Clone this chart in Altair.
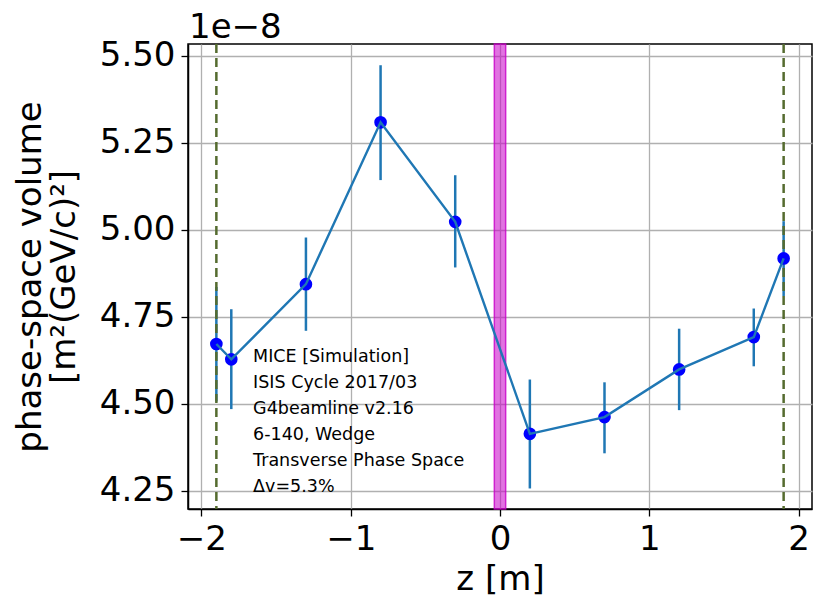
import altair as alt
import pandas as pd

# data (volume in units of 1e-8 m^2 (GeV/c)^2)
z = [-1.9, -1.8, -1.3, -0.8, -0.3, 0.2, 0.7, 1.2, 1.7, 1.9]
vol = [4.672, 4.628, 4.844, 5.309, 5.023, 4.414, 4.462, 4.599, 4.692, 4.918]
err_lo = [4.507, 4.485, 4.710, 5.143, 4.892, 4.257, 4.358, 4.482, 4.608, 4.810]
err_hi = [4.836, 4.772, 4.978, 5.473, 5.157, 4.570, 4.562, 4.716, 4.774, 5.025]
dashed_z = [-1.9, 1.9]
band_edges = [-0.038, 0.038]
x_ticks = [-2, -1, 0, 1, 2]
y_ticks = [4.25, 4.50, 4.75, 5.00, 5.25, 5.50]
x_domain = [-2.09, 2.09]
y_domain = [4.198, 5.534]
notes = ["MICE [Simulation]", "ISIS Cycle 2017/03", "G4beamline v2.16",
         "6-140, Wedge", "Transverse Phase Space", "Δv=5.3%"]
notes_pos = [-1.654, 4.619]
offset_label = ["1e−8"]

FONT = "DejaVu Sans"
W, H = 624, 465

df = pd.DataFrame({"z": z, "vol": vol, "lo": err_lo, "hi": err_hi})
vdf = pd.DataFrame({"z": dashed_z})
bdf = pd.DataFrame({"x0": [band_edges[0]], "x1": [band_edges[1]]})
one = pd.DataFrame({"k": [0]})

xs = alt.Scale(domain=x_domain, nice=False, zero=False)
ys = alt.Scale(domain=y_domain, nice=False, zero=False)

xaxis = alt.Axis(values=x_ticks, format="d", title="z [m]",
                 titleX=W / 2, titleY=80, titleBaseline="alphabetic",
                 titleAlign="center")
yaxis = alt.Axis(values=y_ticks, format=".2f",
                 title=["phase-space volume", "[m²(GeV/c)²]"],
                 titleX=-158, titleY=H / 2, titleAngle=-90,
                 titleAlign="center", titleBaseline="middle",
                 titleLineHeight=34)


def X(f):
    return alt.X(f, scale=xs, axis=xaxis)


def Y(f):
    return alt.Y(f, scale=ys, axis=yaxis)


band = alt.Chart(bdf).mark_rect(color="#c800c8", fillOpacity=0.55,
                                stroke="#c800c8", strokeOpacity=0.8,
                                strokeWidth=1.5).encode(
    x=X("x0:Q"), x2="x1:Q",
    y=alt.value(0), y2=alt.value(H))

errs = alt.Chart(df).mark_rule(color="#1f77b4", strokeWidth=2.5).encode(
    x=X("z:Q"), y=Y("lo:Q"), y2="hi:Q")

vlines = alt.Chart(vdf).mark_rule(color="#556b2f", strokeWidth=2.5,
                                  strokeDash=[9, 5]).encode(x=X("z:Q"))

pts = alt.Chart(df).mark_point(filled=True, color="#0000ff", size=160,
                               opacity=1).encode(x=X("z:Q"), y=Y("vol:Q"))

line = alt.Chart(df).mark_line(color="#1f77b4", strokeWidth=2.4).encode(
    x=X("z:Q"), y=Y("vol:Q"))

txt = alt.Chart(one).mark_text(align="left", baseline="alphabetic",
                               fontSize=17.5, font=FONT, lineHeight=26,
                               color="black").encode(
    x=alt.datum(notes_pos[0]), y=alt.datum(notes_pos[1]),
    text=alt.value(notes))

off = alt.Chart(pd.DataFrame({"t": offset_label})).mark_text(
    align="left", baseline="alphabetic", fontSize=34, font=FONT,
    color="black").encode(x=alt.value(1), y=alt.value(-6), text="t:N")

chart = alt.layer(band, errs, vlines, pts, line, txt, off).properties(
    width=W, height=H, autosize="none",
    padding={"left": 180, "top": 36, "right": 10, "bottom": 90},
).configure_view(stroke="black", strokeWidth=1.5).configure_axis(
    labelFont=FONT, titleFont=FONT, labelFontSize=34, titleFontSize=34,
    labelColor="black", titleColor="black", titleFontWeight="normal",
    grid=True, gridColor="#b0b0b0", gridWidth=1.3, gridOpacity=1,
    domainColor="black", domainWidth=1.5, tickColor="black",
    tickSize=7, tickWidth=1.3, labelPadding=6, labelFlush=False,
    labelOverlap=False)

chart.save("out.html", embed_options={"renderer": "svg", "actions": False})
